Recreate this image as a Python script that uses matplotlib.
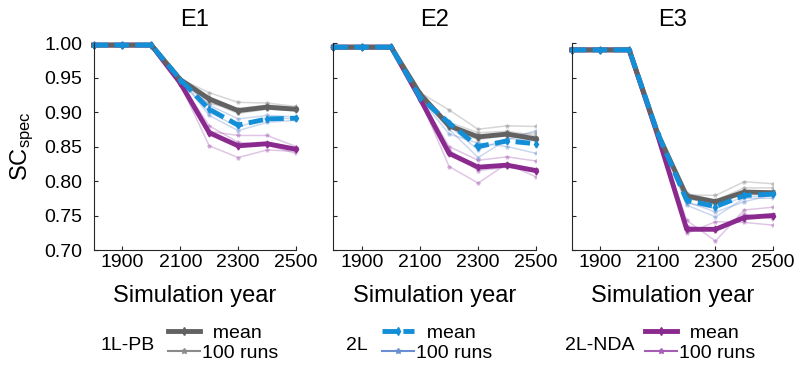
import matplotlib
matplotlib.use("Agg")
import matplotlib.pyplot as plt
from matplotlib.lines import Line2D

# fonts
plt.rcParams['font.family'] = ['Liberation Sans', 'DejaVu Sans']
plt.rcParams['mathtext.fontset'] = 'custom'
plt.rcParams['mathtext.rm'] = 'Liberation Sans'
plt.rcParams['mathtext.it'] = 'Liberation Sans:italic'

# data
years = [1800, 1900, 2000, 2100, 2200, 2300, 2400, 2500]
panel_titles = ["E1", "E2", "E3"]
x_ticks = [1900, 2100, 2300, 2500]
y_ticks = [0.70, 0.75, 0.80, 0.85, 0.90, 0.95, 1.00]

# E1
e1_pb_mean = [0.997, 0.997, 0.997, 0.947, 0.919, 0.902, 0.907, 0.904]
e1_2l_mean = [0.997, 0.997, 0.997, 0.947, 0.904, 0.881, 0.890, 0.891]
e1_nda_mean = [0.997, 0.997, 0.997, 0.942, 0.870, 0.851, 0.854, 0.846]
e1_pb_runs = [[0.997, 0.997, 0.997, 0.948, 0.928, 0.914, 0.913, 0.908],
              [0.997, 0.997, 0.997, 0.946, 0.915, 0.898, 0.904, 0.902],
              [0.997, 0.997, 0.997, 0.947, 0.912, 0.905, 0.910, 0.906]]
e1_2l_runs = [[0.997, 0.997, 0.997, 0.946, 0.910, 0.890, 0.895, 0.893],
              [0.997, 0.997, 0.997, 0.948, 0.895, 0.873, 0.885, 0.888],
              [0.997, 0.997, 0.997, 0.947, 0.900, 0.878, 0.892, 0.890]]
e1_nda_runs = [[0.997, 0.997, 0.997, 0.940, 0.851, 0.834, 0.845, 0.843],
               [0.997, 0.997, 0.997, 0.944, 0.872, 0.866, 0.866, 0.850],
               [0.997, 0.997, 0.997, 0.943, 0.880, 0.856, 0.852, 0.840]]

# E2
e2_pb_mean = [0.994, 0.994, 0.994, 0.926, 0.880, 0.864, 0.868, 0.861]
e2_2l_mean = [0.994, 0.994, 0.994, 0.921, 0.884, 0.850, 0.858, 0.854]
e2_nda_mean = [0.994, 0.994, 0.994, 0.919, 0.840, 0.820, 0.823, 0.815]
e2_pb_runs = [[0.994, 0.994, 0.994, 0.928, 0.903, 0.875, 0.880, 0.879],
              [0.994, 0.994, 0.994, 0.925, 0.885, 0.870, 0.872, 0.866],
              [0.994, 0.994, 0.994, 0.927, 0.878, 0.860, 0.866, 0.870]]
e2_2l_runs = [[0.994, 0.994, 0.994, 0.922, 0.875, 0.834, 0.860, 0.873],
              [0.994, 0.994, 0.994, 0.920, 0.868, 0.855, 0.850, 0.840],
              [0.994, 0.994, 0.994, 0.921, 0.880, 0.845, 0.862, 0.858]]
e2_nda_runs = [[0.994, 0.994, 0.994, 0.918, 0.821, 0.797, 0.825, 0.806],
               [0.994, 0.994, 0.994, 0.920, 0.850, 0.830, 0.835, 0.829],
               [0.994, 0.994, 0.994, 0.919, 0.845, 0.815, 0.820, 0.818]]

# E3
e3_pb_mean = [0.990, 0.990, 0.990, 0.868, 0.778, 0.770, 0.784, 0.783]
e3_2l_mean = [0.990, 0.990, 0.990, 0.868, 0.772, 0.763, 0.779, 0.781]
e3_nda_mean = [0.990, 0.990, 0.990, 0.865, 0.730, 0.730, 0.747, 0.750]
e3_pb_runs = [[0.990, 0.990, 0.990, 0.868, 0.780, 0.779, 0.799, 0.796],
              [0.990, 0.990, 0.990, 0.867, 0.775, 0.765, 0.785, 0.785],
              [0.990, 0.990, 0.990, 0.869, 0.782, 0.772, 0.790, 0.790]]
e3_2l_runs = [[0.990, 0.990, 0.990, 0.868, 0.765, 0.748, 0.775, 0.775],
              [0.990, 0.990, 0.990, 0.867, 0.770, 0.755, 0.770, 0.780],
              [0.990, 0.990, 0.990, 0.868, 0.768, 0.760, 0.778, 0.778]]
e3_nda_runs = [[0.990, 0.990, 0.990, 0.864, 0.743, 0.713, 0.758, 0.762],
               [0.990, 0.990, 0.990, 0.866, 0.724, 0.741, 0.740, 0.736],
               [0.990, 0.990, 0.990, 0.865, 0.735, 0.728, 0.752, 0.745]]

# styles
GRAY = '#626262'
GRAY_RUN = '#8a8a8a'
BLUE = '#138fd8'
BLUE_RUN = '#6a8fd0'
PURPLE = '#8b2a8e'
PURPLE_RUN = '#a55db5'
SPINE = '#262626'

fig = plt.figure(figsize=(7.96, 3.67), dpi=100)

W, H = 796.0, 367.0
ax_left_px = [93.5, 333.3, 571.7]
ax_right_px = [296.0, 536.0, 773.0]
ax_top_px, ax_bot_px = 43.0, 250.0

panels = [
    (e1_pb_mean, e1_2l_mean, e1_nda_mean, e1_pb_runs, e1_2l_runs, e1_nda_runs),
    (e2_pb_mean, e2_2l_mean, e2_nda_mean, e2_pb_runs, e2_2l_runs, e2_nda_runs),
    (e3_pb_mean, e3_2l_mean, e3_nda_mean, e3_pb_runs, e3_2l_runs, e3_nda_runs),
]

for i, (pb_m, l2_m, nda_m, pb_r, l2_r, nda_r) in enumerate(panels):
    l = ax_left_px[i] / W
    b = 1 - ax_bot_px / H
    w = (ax_right_px[i] - ax_left_px[i]) / W
    h = (ax_bot_px - ax_top_px) / H
    ax = fig.add_axes([l, b, w, h])

    # faint runs
    for run in nda_r:
        ax.plot(years, run, color=PURPLE_RUN, lw=1.1, alpha=0.35, marker='*', ms=3)
    for run in pb_r:
        ax.plot(years, run, color=GRAY_RUN, lw=1.1, alpha=0.35, marker='*', ms=3)
    for run in l2_r:
        ax.plot(years, run, color=BLUE_RUN, lw=1.1, alpha=0.35, marker='*', ms=3)

    # means
    ax.plot(years, nda_m, color=PURPLE, lw=3.5, marker='d', ms=3.5, clip_on=False)
    ax.plot(years, pb_m, color=GRAY, lw=3.5, marker='d', ms=3.5, clip_on=False)
    ax.plot(years, l2_m, color=BLUE, lw=3.5, marker='d', ms=3.5, dashes=(3, 1.3),
            dash_capstyle='butt', clip_on=False)

    ax.set_xlim(1800, 2500)
    ax.set_ylim(0.70, 1.00)
    ax.set_xticks(x_ticks)
    ax.set_yticks(y_ticks)
    for s in ['top', 'right']:
        ax.spines[s].set_visible(False)
    for s in ['left', 'bottom']:
        ax.spines[s].set_color(SPINE)
        ax.spines[s].set_linewidth(0.8)
    ax.tick_params(direction='in', length=3, width=0.8, colors=SPINE,
                   labelcolor='black', labelsize=14)
    ax.tick_params(axis='x', pad=3)
    ax.tick_params(axis='y', pad=8)
    if i == 0:
        ax.set_yticklabels([f'{v:.2f}' for v in y_ticks])
        ax.set_ylabel(r'SC$_{\mathrm{spec}}$', fontsize=17, labelpad=6)
    else:
        ax.set_yticklabels([])
    ax.set_xlabel('Simulation year', fontsize=17, labelpad=10)
    ax.set_title(panel_titles[i], fontsize=17, pad=12)

# legends under each panel
legend_specs = [
    ('1L-PB', GRAY, GRAY_RUN, None, 155, 168),
    ('2L', BLUE, BLUE_RUN, (3, 1.3), 368, 382),
    ('2L-NDA', PURPLE, PURPLE_RUN, None, 634, 645),
]
for name, c_mean, c_run, dash, name_right, handle_left in legend_specs:
    fig.text(name_right / W, 1 - 345 / H, name, ha='right', va='center', fontsize=14)
    if dash:
        h_mean = Line2D([], [], color=c_mean, lw=3.5, marker='d', ms=4, dashes=dash,
                        dash_capstyle='butt')
    else:
        h_mean = Line2D([], [], color=c_mean, lw=3.5, marker='d', ms=4)
    h_run = Line2D([], [], color=c_run, lw=1.5, marker='*', ms=4)
    fig.legend([h_mean, h_run], ['  mean', '100 runs'], loc='center left',
               bbox_to_anchor=(handle_left / W, 1 - 343 / H), frameon=False,
               fontsize=14, handlelength=1.65, handletextpad=0.1, labelspacing=0.1,
               borderpad=0, borderaxespad=0)

fig.savefig('out.png', dpi=100)
